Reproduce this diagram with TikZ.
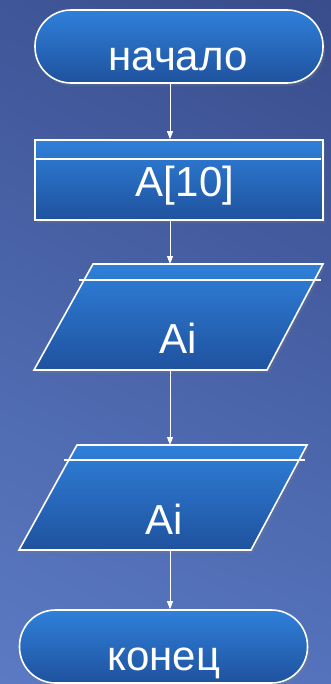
\documentclass[tikz,border=0pt]{standalone}
\usepackage{fontspec}
\setmainfont{Liberation Sans}
\usetikzlibrary{arrows.meta,shadows,shadings}
\definecolor{bgUL}{HTML}{3F5698}
\definecolor{bgUR}{HTML}{394C8B}
\definecolor{bgLL}{HTML}{5B7AC3}
\definecolor{bgLR}{HTML}{5473BC}
\definecolor{boxtop}{HTML}{2F80DA}
\definecolor{boxbot}{HTML}{1F529E}
\begin{document}
\begin{tikzpicture}[x=1pt,y=-1pt,
  boxshade/.style={top color=boxtop,bottom color=boxbot,draw=white,line width=1.6pt,
    drop shadow={opacity=0.25,shadow xshift=2pt,shadow yshift=-3pt}},
  termbox/.style={boxshade,rectangle,rounded corners=36pt,inner sep=0pt,minimum width=288pt,minimum height=73pt},
  procbox/.style={boxshade,rectangle,inner sep=0pt,minimum width=288pt,minimum height=80pt},
  label/.style={text=white,font=\fontsize{42}{48}\selectfont,inner sep=0pt,anchor=base},
  inner/.style={draw=white,line width=1.4pt},
  arrow/.style={draw=white,line width=1pt,-{Triangle[length=8pt,width=6pt]}}]
\useasboundingbox (0,0) rectangle (331,684);
\shade[upper left=bgUL,upper right=bgUR,lower left=bgLL,lower right=bgLR] (0,0) rectangle (331,684);
% start
\node[termbox] (s1) at (179,46.5) {};
\node[label] (t1) at (178,71) {начало};
% process
\node[procbox] (r1) at (179,180) {};
\draw[inner] (35,159) -- (321,159);
\node[label] (t2) at (185,197) {A[10]};
% parallelogram 1
\path[boxshade] (93,264) -- (323,264) -- (267,370) -- (34,370) -- cycle;
\draw[inner] (79,280) -- (321,280);
\coordinate (p1n) at (170,264);
\coordinate (p1s) at (170,370);
\node[label] (t3) at (178,353) {Ai};
% parallelogram 2
\path[boxshade] (77,445) -- (307,445) -- (251,550) -- (19,550) -- cycle;
\draw[inner] (64,460) -- (305,460);
\coordinate (p2n) at (170,445);
\coordinate (p2s) at (170,550);
\node[label] (t4) at (164,534) {Ai};
% end
\node[termbox] (e1) at (163.5,646.5) {};
\node[label] (t5) at (164,670) {конец};
% connectors
\coordinate (ax) at (170,0);
\draw[arrow] (s1.south -| ax) -- (r1.north -| ax);
\draw[arrow] (r1.south -| ax) -- (p1n);
\draw[arrow] (p1s) -- (p2n);
\draw[arrow] (p2s) -- (e1.north -| ax);
\end{tikzpicture}
\end{document}
